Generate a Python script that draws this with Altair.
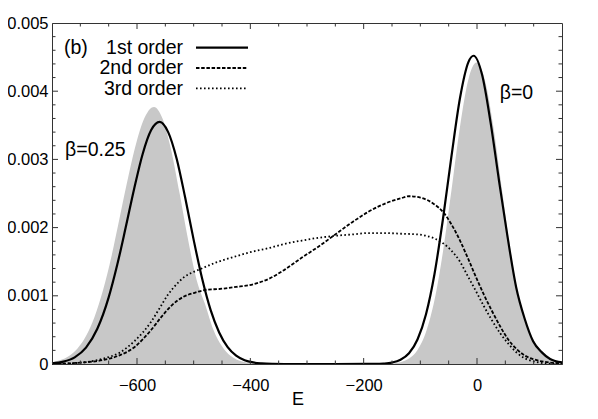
import altair as alt
import pandas as pd

# ---------------- data ----------------
# gray filled reference distributions (beta=0.25 left, beta=0 right)
gray_E = [-750, -735, -720, -705, -690, -675, -660, -645, -630, -615, -600, -585, -570,
          -555, -540, -525, -510, -495, -480, -465, -450, -435, -420, -405, -390, -370,
          -300, -200, -170, -150, -135, -120, -105, -90, -75, -60, -45, -30, -15, -1,
          14, 29, 44, 59, 74, 89, 104, 119, 134, 150]
gray_v = [0.000026, 0.000057, 0.000118, 0.000228, 0.000411, 0.00069, 0.00108, 0.00158,
          0.00217, 0.00276, 0.00328, 0.00364, 0.00377, 0.0036, 0.00315, 0.00251, 0.00183,
          0.00124, 0.00088, 0.0005, 0.00026, 0.00012, 0.00005, 0.00002, 0.000007, 0,
          0, 0, 0.0000013, 0.0000082, 0.000027, 0.00008, 0.000206, 0.000468, 0.000937,
          0.00165, 0.00255, 0.00348, 0.00418, 0.00442, 0.00416, 0.00347, 0.00256,
          0.00167, 0.000966, 0.000546, 0.000291, 0.000147, 0.00006, 0.000025]

# 1st order (solid)
first_E = [-750, -730, -710, -690, -670, -650, -635, -620, -605, -590, -575, -560, -545,
           -530, -515, -500, -485, -470, -455, -440, -425, -410, -395, -380, -360, -340,
           -250, -180, -165, -150, -135, -120, -105, -90, -75, -60, -45, -30, -15, -6,
           9, 24, 39, 54, 69, 84, 99, 114, 129, 150]
first_v = [0.000011, 0.000035, 0.000098, 0.00024, 0.000516, 0.000976, 0.00145, 0.002,
           0.00257, 0.00308, 0.00343, 0.00355, 0.0034, 0.00301, 0.00244, 0.00182,
           0.00125, 0.00079, 0.000463, 0.000247, 0.000122, 0.000055, 0.000023, 0.000009,
           0.000002, 0, 0, 0.000002, 0.0000066, 0.000021, 0.000062, 0.000157, 0.00036,
           0.00073, 0.00132, 0.00213, 0.00305, 0.0039, 0.00443, 0.00452, 0.00424,
           0.00354, 0.00268, 0.00186, 0.00113, 0.000667, 0.000334, 0.000174, 0.000073,
           0.000023]

# 2nd order (dashed)
second_E = [-750, -700, -659, -630, -604, -590, -575, -557, -540, -517, -500, -476, -455,
            -425, -395, -367, -340, -309, -280, -250, -220, -192, -160, -134, -120, -100,
            -75, -60, -46, -30, -17, 0, 12, 25, 41, 55, 71, 85, 100, 120, 150]
second_v = [0, 0.00002, 0.00006, 0.00013, 0.00025, 0.00036, 0.0005, 0.00069, 0.00085,
            0.00099, 0.00104, 0.00109, 0.0011, 0.00113, 0.00117, 0.00125, 0.00138,
            0.00156, 0.00172, 0.0019, 0.00208, 0.00223, 0.00236, 0.00243, 0.00246,
            0.00244, 0.00234, 0.00223, 0.00206, 0.00181, 0.00157, 0.00124, 0.00102,
            0.0008, 0.00055, 0.00036, 0.00021, 0.00012, 0.00007, 0.00003, 0.00001]

# 3rd order (dotted)
third_E = [-750, -700, -659, -630, -604, -590, -575, -560, -545, -530, -516, -500, -486,
           -460, -425, -400, -367, -340, -309, -280, -250, -220, -192, -160, -134, -104,
           -90, -75, -60, -46, -30, -17, 0, 12, 25, 41, 55, 71, 85, 100, 120, 150]
third_v = [0, 0.00002, 0.00008, 0.00017, 0.00034, 0.00046, 0.00062, 0.00082, 0.00102,
           0.00117, 0.00128, 0.00135, 0.0014, 0.00149, 0.00158, 0.00164, 0.0017, 0.00176,
           0.00181, 0.00185, 0.00188, 0.0019, 0.00192, 0.00192, 0.00191, 0.0019, 0.00188,
           0.00184, 0.00177, 0.00167, 0.0015, 0.0013, 0.00104, 0.00085, 0.00066,
           0.00045, 0.0003, 0.00016, 0.00008, 0.00004, 0.00001, 0]

# axis ticks and labels
x_labels = [-600, -400, -200, 0]
x_minor = [-700, -650, -550, -500, -450, -350, -300, -250, -150, -100, -50, 50, 100]
y_labels = [0, 0.001, 0.002, 0.003, 0.004, 0.005]
y_major = [0.001, 0.002, 0.003, 0.004]
y_minor = [0.0002, 0.0004, 0.0006, 0.0008, 0.0012, 0.0014, 0.0016, 0.0018,
           0.0022, 0.0024, 0.0026, 0.0028, 0.0032, 0.0034, 0.0036, 0.0038,
           0.0042, 0.0044, 0.0046, 0.0048]

legend_labels = ["1st order", "2nd order", "3rd order"]
beta_labels = ["β=0.25", "β=0"]
beta_E = [-727, 40]
beta_v = [0.00314, 0.00397]

# ---------------- chart ----------------
W, H = 510, 341
FONT = "Liberation Sans"
FRAME = "#333333"

xs = alt.Scale(domain=[-750, 150], nice=False, zero=False)
ys = alt.Scale(domain=[0, 0.005], nice=False)
x_axis = alt.Axis(values=x_labels, ticks=False, grid=False, domain=True, domainColor=FRAME,
                  domainWidth=1, labelFontSize=16.5, labelFont=FONT, labelColor="black",
                  labelPadding=13, labelFlush=False, labelOverlap=False, zindex=1)
y_axis = alt.Axis(values=y_labels, format=".3~f", ticks=False, grid=False, domain=True,
                  domainColor=FRAME, domainWidth=1, labelFontSize=16.5, labelFont=FONT,
                  labelColor="black", labelPadding=4, labelFlush=False, labelOverlap=False,
                  zindex=1)
X = alt.X("E:Q", scale=xs, axis=x_axis, title=None)
Y = alt.Y("v:Q", scale=ys, axis=y_axis, title=None)

gray_df = pd.DataFrame({"E": gray_E, "v": gray_v})
first_df = pd.DataFrame({"E": first_E, "v": first_v})
second_df = pd.DataFrame({"E": second_E, "v": second_v})
third_df = pd.DataFrame({"E": third_E, "v": third_v})

gray = alt.Chart(gray_df).mark_area(color="#c8c8c8", interpolate="monotone").encode(x=X, y=Y)
l1 = alt.Chart(first_df).mark_line(color="black", strokeWidth=2.2,
                                   interpolate="monotone").encode(x=X, y=Y)
l2 = alt.Chart(second_df).mark_line(color="black", strokeWidth=1.8, strokeDash=[3.5, 1.7],
                                    interpolate="monotone").encode(x=X, y=Y)
l3 = alt.Chart(third_df).mark_line(color="black", strokeWidth=1.8, strokeDash=[1.6, 2.4],
                                   interpolate="monotone").encode(x=X, y=Y)

# inward ticks on all four sides
xmaj_df = pd.DataFrame({"E": x_labels})
xmin_df = pd.DataFrame({"E": x_minor})
ymaj_df = pd.DataFrame({"v": y_major})
ymin_df = pd.DataFrame({"v": y_minor})
tick_layers = []
for df, ln in [(xmaj_df, 6), (xmin_df, 3.5)]:
    tick_layers.append(alt.Chart(df).mark_rule(color=FRAME, strokeWidth=1).encode(
        x=X, y=alt.value(H), y2=alt.value(H - ln)))
    tick_layers.append(alt.Chart(df).mark_rule(color=FRAME, strokeWidth=1).encode(
        x=X, y=alt.value(0), y2=alt.value(ln)))
for df, ln in [(ymaj_df, 6), (ymin_df, 3.5)]:
    tick_layers.append(alt.Chart(df).mark_rule(color=FRAME, strokeWidth=1).encode(
        y=Y, x=alt.value(0), x2=alt.value(ln)))
    tick_layers.append(alt.Chart(df).mark_rule(color=FRAME, strokeWidth=1).encode(
        y=Y, x=alt.value(W), x2=alt.value(W - ln)))

# annotations
TS = 19.5
b_label = alt.Chart(pd.DataFrame({"t": ["(b)"]})).mark_text(
    font=FONT, fontSize=TS, align="left", baseline="middle", color="black").encode(
    x=alt.value(12), y=alt.value(25), text="t:N")

legend_layers = []
dashes = [None, [3.5, 1.7], [1.6, 2.4]]
widths = [2.2, 1.8, 1.8]
for i, lab in enumerate(legend_labels):
    yy = 25 + 20.3 * i
    legend_layers.append(alt.Chart(pd.DataFrame({"t": [lab]})).mark_text(
        font=FONT, fontSize=TS, align="right", baseline="middle", color="black").encode(
        x=alt.value(131), y=alt.value(yy), text="t:N"))
    kw = dict(color="black", strokeWidth=widths[i])
    if dashes[i] is not None:
        kw["strokeDash"] = dashes[i]
    legend_layers.append(alt.Chart(pd.DataFrame({"t": [lab]})).mark_rule(**kw).encode(
        x=alt.value(144), x2=alt.value(196), y=alt.value(yy - 0.3)))

beta = alt.Chart(pd.DataFrame({"E": beta_E, "v": beta_v, "t": beta_labels})).mark_text(
    font=FONT, fontSize=TS, align="left", baseline="middle", color="black").encode(
    x=X, y=Y, text="t:N")

e_title = alt.Chart(pd.DataFrame({"t": ["E"]})).mark_text(
    font=FONT, fontSize=18, align="center", baseline="middle", color="black").encode(
    x=alt.value(246), y=alt.value(377), text="t:N")

chart = alt.layer(gray, l1, l2, l3, *tick_layers, b_label, *legend_layers, beta, e_title).properties(
    width=W, height=H,
    padding={"left": 44, "top": 15, "right": 28, "bottom": 44},
    autosize=alt.AutoSizeParams(type="none"),
    background="white",
).configure_view(stroke=FRAME, strokeWidth=1)

chart.save("out.html", embed_options={"renderer": "svg", "actions": False})
